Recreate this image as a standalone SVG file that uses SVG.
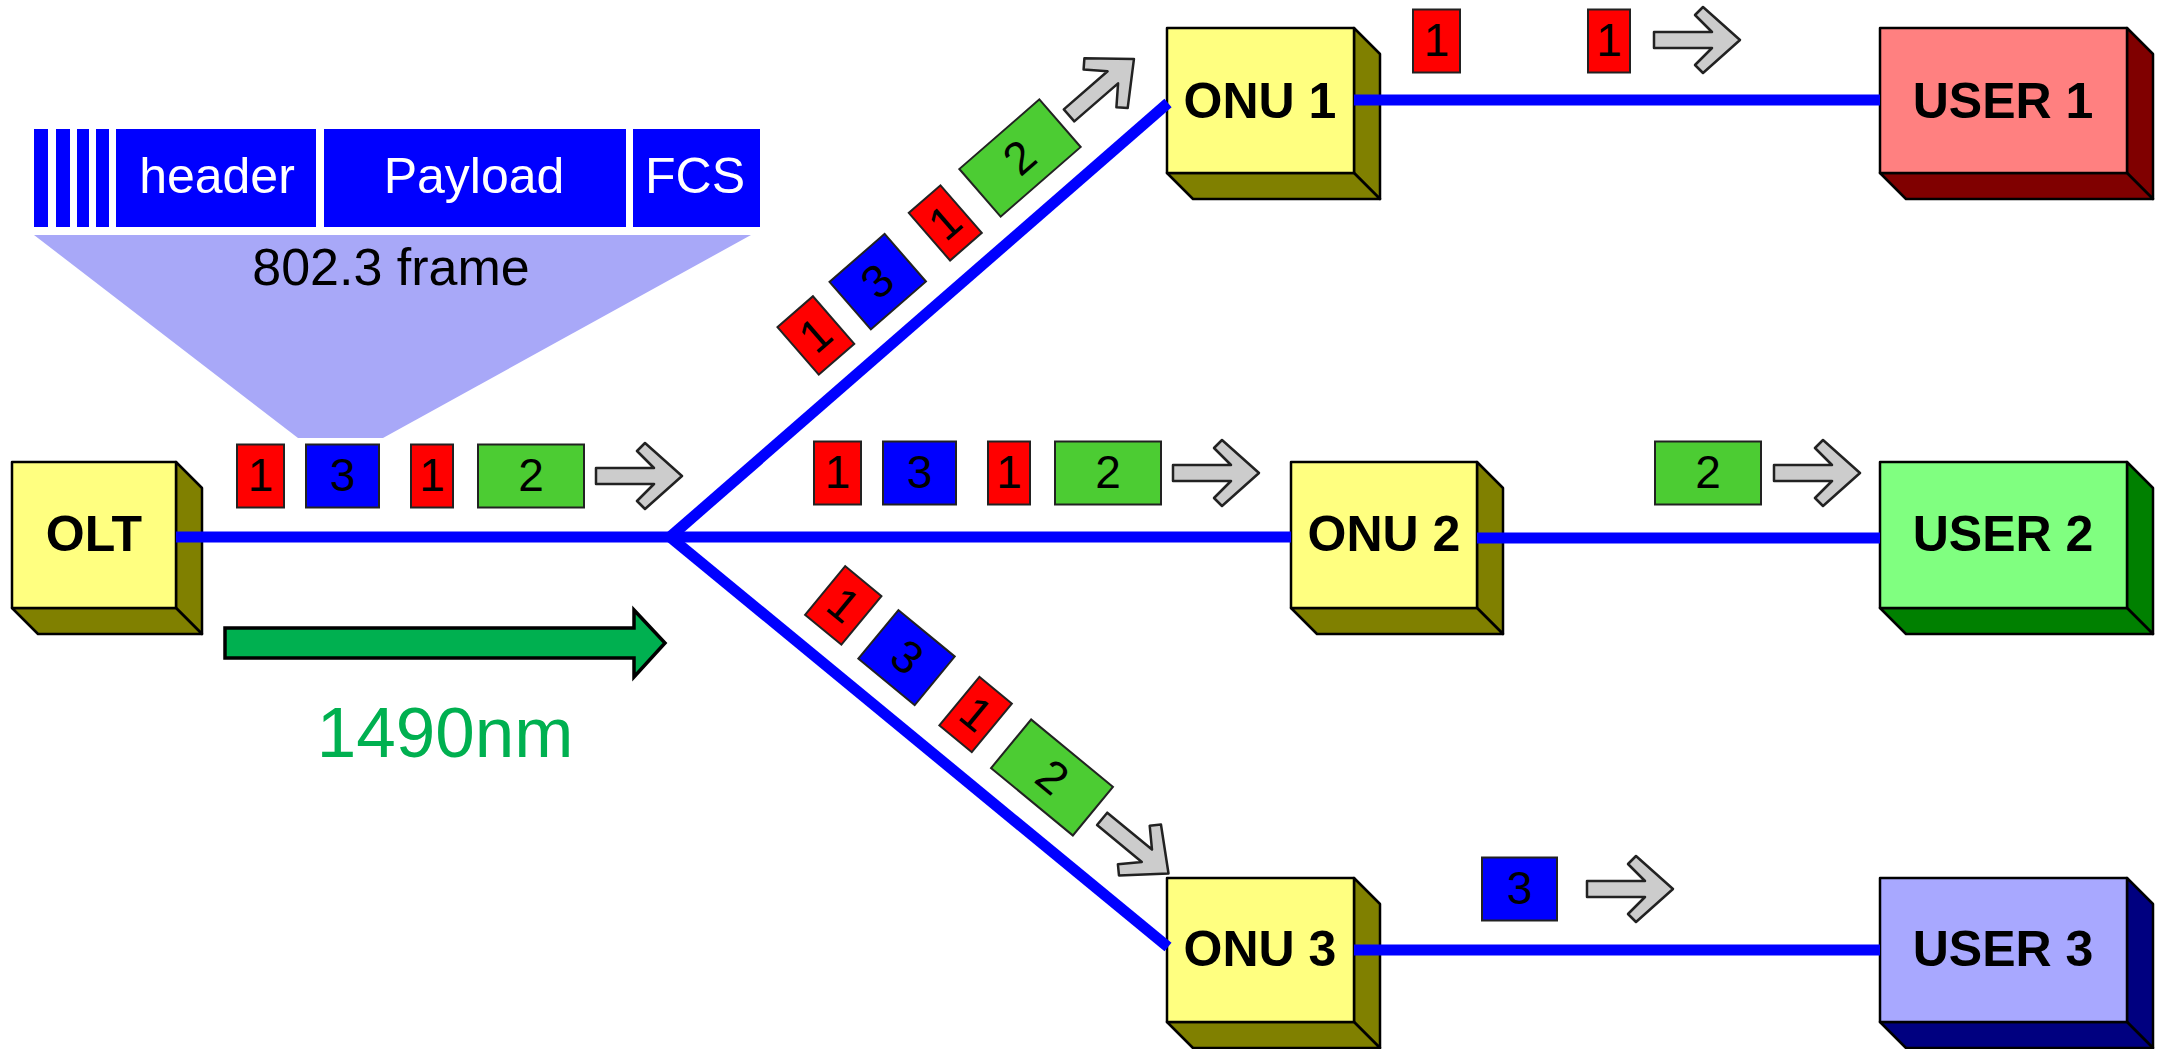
<svg xmlns="http://www.w3.org/2000/svg" width="2165" height="1049" viewBox="0 0 2165 1049">
<style>
.lbl{font-family:'Liberation Sans',Arial,sans-serif;font-weight:bold;font-size:50px;text-anchor:middle;fill:#000}
.pt{font-family:'Liberation Sans',Arial,sans-serif;font-size:46px;text-anchor:middle;fill:#000}
.ft{font-family:'Liberation Sans',Arial,sans-serif;font-size:50px;text-anchor:middle;fill:#fff}
.pk{stroke:#222;stroke-width:2}
.red{fill:#ff0000}
.blue{fill:#0000ff}
.green{fill:#4ccc33}
.gray{fill:#cccccc;stroke:#222;stroke-width:2.5;stroke-linejoin:round}
.fiber{stroke:#0000ff;stroke-width:11;fill:none}
.edge{stroke:#000;stroke-width:2.5;stroke-linejoin:round}
.yf{fill:#ffff80}.ys{fill:#808000}
.rf{fill:#ff8080}.rs{fill:#800000}
.gf{fill:#80ff80}.gs{fill:#008000}
.bf{fill:#a8a8ff}.bs{fill:#000080}
</style>
<defs>
<!-- grey direction arrow, origin at left middle -->
<polygon id="dir" class="gray" points="0,-8 58,-8 41,-25 49,-33 86,0 49,33 41,25 58,8 0,8"/>
</defs>

<!-- Ethernet frame layout -->
<g id="frame">
  <polygon points="34,235 751,235 383,438 298,438" fill="#a8a8f8"/>
  <rect x="34" y="129" width="14" height="98" class="blue"/>
  <rect x="56" y="129" width="14" height="98" class="blue"/>
  <rect x="77" y="129" width="12" height="98" class="blue"/>
  <rect x="96" y="129" width="13" height="98" class="blue"/>
  <rect x="116" y="129" width="200" height="98" class="blue"/>
  <rect x="324" y="129" width="302" height="98" class="blue"/>
  <rect x="633" y="129" width="127" height="98" class="blue"/>
  <text class="ft" x="217" y="193">header</text>
  <text class="ft" x="474" y="193">Payload</text>
  <text class="ft" x="695" y="193">FCS</text>
  <text x="391" y="285" font-family="'Liberation Sans',Arial,sans-serif" font-size="52" text-anchor="middle" fill="#000">802.3 frame</text>
</g>

<!-- nodes -->
<g id="olt">
  <polygon class="ys edge" points="176,462 202,488 202,634 176,608"/>
  <polygon class="ys edge" points="12,608 176,608 202,634 38,634"/>
  <rect class="yf edge" x="12" y="462" width="164" height="146"/>
  <text class="lbl" x="94" y="551">OLT</text>
</g>
<g id="onu1">
  <polygon class="ys edge" points="1354,28 1380,54 1380,199 1354,173"/>
  <polygon class="ys edge" points="1167,173 1354,173 1380,199 1193,199"/>
  <rect class="yf edge" x="1167" y="28" width="187" height="145"/>
  <text class="lbl" x="1260" y="118">ONU 1</text>
</g>
<g id="onu2">
  <polygon class="ys edge" points="1477,462 1503,488 1503,634 1477,608"/>
  <polygon class="ys edge" points="1291,608 1477,608 1503,634 1317,634"/>
  <rect class="yf edge" x="1291" y="462" width="186" height="146"/>
  <text class="lbl" x="1384" y="551">ONU 2</text>
</g>
<g id="onu3">
  <polygon class="ys edge" points="1354,878 1380,904 1380,1048 1354,1022"/>
  <polygon class="ys edge" points="1167,1022 1354,1022 1380,1048 1193,1048"/>
  <rect class="yf edge" x="1167" y="878" width="187" height="144"/>
  <text class="lbl" x="1260" y="966">ONU 3</text>
</g>
<g id="user1">
  <polygon class="rs edge" points="2127,28 2153,54 2153,199 2127,173"/>
  <polygon class="rs edge" points="1880,173 2127,173 2153,199 1906,199"/>
  <rect class="rf edge" x="1880" y="28" width="247" height="145"/>
  <text class="lbl" x="2003" y="118">USER 1</text>
</g>
<g id="user2">
  <polygon class="gs edge" points="2127,462 2153,488 2153,634 2127,608"/>
  <polygon class="gs edge" points="1880,608 2127,608 2153,634 1906,634"/>
  <rect class="gf edge" x="1880" y="462" width="247" height="146"/>
  <text class="lbl" x="2003" y="551">USER 2</text>
</g>
<g id="user3">
  <polygon class="bs edge" points="2127,878 2153,904 2153,1048 2127,1022"/>
  <polygon class="bs edge" points="1880,1022 2127,1022 2153,1048 1906,1048"/>
  <rect class="bf edge" x="1880" y="878" width="247" height="144"/>
  <text class="lbl" x="2003" y="966">USER 3</text>
</g>

<!-- fibre connectors -->
<g id="connectors">
  <line class="fiber" x1="176" y1="537" x2="1291" y2="537"/>
  <line class="fiber" x1="670" y1="537" x2="1168" y2="103"/>
  <line class="fiber" x1="670" y1="537" x2="1168" y2="947"/>
  <line class="fiber" x1="1354" y1="100" x2="1880" y2="100"/>
  <line class="fiber" x1="1477" y1="538" x2="1880" y2="538"/>
  <line class="fiber" x1="1354" y1="950" x2="1880" y2="950"/>
</g>

<!-- downstream frame bursts -->
<g id="burst-olt" transform="translate(531,476)">
  <rect class="red pk" x="-294" y="-31.5" width="47" height="63"/><text class="pt" x="-270.5" y="15">1</text>
  <rect class="blue pk" x="-225" y="-31.5" width="73" height="63"/><text class="pt" x="-188.5" y="15">3</text>
  <rect class="red pk" x="-120" y="-31.5" width="42" height="63"/><text class="pt" x="-99" y="15">1</text>
  <rect class="green pk" x="-53" y="-31.5" width="106" height="63"/><text class="pt" x="0" y="15">2</text>
  <use href="#dir" x="65" y="0"/>
</g>
<g id="burst-onu2" transform="translate(1108,473)">
  <rect class="red pk" x="-294" y="-31.5" width="47" height="63"/><text class="pt" x="-270.5" y="15">1</text>
  <rect class="blue pk" x="-225" y="-31.5" width="73" height="63"/><text class="pt" x="-188.5" y="15">3</text>
  <rect class="red pk" x="-120" y="-31.5" width="42" height="63"/><text class="pt" x="-99" y="15">1</text>
  <rect class="green pk" x="-53" y="-31.5" width="106" height="63"/><text class="pt" x="0" y="15">2</text>
  <use href="#dir" x="65" y="0"/>
</g>
<g id="burst-onu1" transform="translate(1020,158) rotate(-41)">
  <rect class="red pk" x="-294" y="-31.5" width="47" height="63"/><text class="pt" x="-270.5" y="15">1</text>
  <rect class="blue pk" x="-225" y="-31.5" width="73" height="63"/><text class="pt" x="-188.5" y="15">3</text>
  <rect class="red pk" x="-120" y="-31.5" width="42" height="63"/><text class="pt" x="-99" y="15">1</text>
  <rect class="green pk" x="-53" y="-31.5" width="106" height="63"/><text class="pt" x="0" y="15">2</text>
  <use href="#dir" x="65" y="0"/>
</g>
<g id="burst-onu3" transform="translate(1052,777.5) rotate(39.5)">
  <rect class="red pk" x="-294" y="-31.5" width="47" height="63"/><text class="pt" x="-270.5" y="15">1</text>
  <rect class="blue pk" x="-225" y="-31.5" width="73" height="63"/><text class="pt" x="-188.5" y="15">3</text>
  <rect class="red pk" x="-120" y="-31.5" width="42" height="63"/><text class="pt" x="-99" y="15">1</text>
  <rect class="green pk" x="-53" y="-31.5" width="106" height="63"/><text class="pt" x="0" y="15">2</text>
  <use href="#dir" x="65" y="0"/>
</g>

<!-- filtered frames delivered to each user -->
<g id="deliver-user1">
  <rect class="red pk" x="1413" y="9.5" width="47" height="63"/><text class="pt" x="1436.5" y="56">1</text>
  <rect class="red pk" x="1588" y="9.5" width="42" height="63"/><text class="pt" x="1609" y="56">1</text>
  <use href="#dir" x="1654" y="40"/>
</g>
<g id="deliver-user2">
  <rect class="green pk" x="1655" y="441.5" width="106" height="63"/><text class="pt" x="1708" y="488">2</text>
  <use href="#dir" x="1774" y="473"/>
</g>
<g id="deliver-user3">
  <rect class="blue pk" x="1482" y="857.5" width="75" height="63"/><text class="pt" x="1519.5" y="904">3</text>
  <use href="#dir" x="1587" y="889"/>
</g>

<!-- wavelength indicator -->
<g id="wavelength">
  <polygon points="225,628 634,628 634,610 665,643 634,677 634,658 225,658" fill="#00b050" stroke="#000" stroke-width="3.5" stroke-linejoin="miter"/>
  <text x="445" y="757" font-family="'Liberation Sans',Arial,sans-serif" font-size="71" text-anchor="middle" fill="#00b050">1490nm</text>
</g>
</svg>
